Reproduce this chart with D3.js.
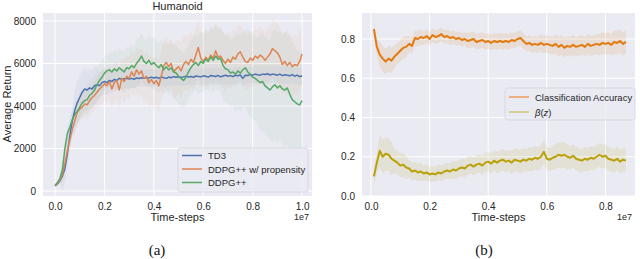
<!DOCTYPE html>
<meta charset="utf-8">
<style>
body { margin: 0; background: #fff; }
svg { display: block; font-family: "Liberation Sans", Arial, sans-serif; }
.tick text { font-size: 10px; fill: #262626; }
.cap { font-family: "Liberation Serif", "Times New Roman", serif; font-size: 15px; fill: #111; }
</style>
<body>
<svg width="640" height="259"></svg>
<script src="https://d3js.org/d3.v7.min.js"></script>
<script>
// ---- panel (a): Humanoid, x = 0 .. 1.0 (1e7) step 0.01 ----
var td3 = [250,330,480,700,1050,1750,2600,3300,3800,4150,
  4400,4650,4800,4750,4850,4800,4950,5000,4950,5100,
  5150,5100,5200,5150,5250,5200,5300,5250,5280,5300,
  5270,5300,5260,5320,5290,5330,5300,5340,5310,5360,
  5320,5350,5300,5370,5330,5300,5360,5330,5380,5350,
  5380,5340,5370,5400,5360,5390,5350,5410,5390,5370,
  5420,5400,5360,5430,5410,5390,5440,5370,5410,5450,
  5400,5430,5380,5450,5420,5460,5300,5450,5430,5480,
  5450,5500,5470,5450,5500,5480,5520,5460,5500,5480,
  5450,5500,5430,5470,5450,5420,5480,5400,5450,5380,5420];
var ddpgProp = [250,350,500,800,1300,1900,2400,2900,3300,3700,
  3850,3950,4100,4050,4250,4400,4500,4650,4800,4900,
  5050,4950,5150,4800,5100,5200,4750,5300,5150,5400,
  5300,5600,5400,5700,5500,5650,5300,5400,5100,5250,
  5050,5200,4950,5400,5900,6050,5850,6000,5600,5750,
  5850,5650,5950,6100,5950,6200,6050,6400,6750,6250,
  6100,6300,6150,6400,6250,6600,6300,6350,6150,6000,
  6200,6050,6300,6200,6450,6550,6300,6100,6050,6250,
  6150,6350,6250,6400,6300,6150,6300,6450,6700,6600,
  6500,6300,5950,6100,5900,6050,5850,5950,5900,6100,6450];
var ddpg = [250,400,600,1000,2000,2700,3000,3350,3600,3750,
  3950,4150,4250,4300,4500,4600,4750,5000,5200,5350,
  5550,5650,5700,5600,5750,5650,5800,5700,5600,5800,
  5750,5900,5800,6000,6150,6350,6100,6000,6150,5950,
  6050,5900,5800,5950,5700,5850,5700,5800,5600,5550,
  5400,5300,5200,5350,5600,5800,5950,6050,5900,6100,
  6000,6200,6100,6300,6150,6350,6200,6250,5900,5750,
  5700,5550,5600,5500,5650,5550,5700,5800,5600,5500,
  5350,5300,5200,5100,5150,4950,4850,4750,4900,5000,
  4850,4950,4800,4750,4850,4550,4300,4200,4100,4050,4250];
// band half-widths, one per 0.05e7
var td3Sd = [100,700,1000,900,600,500,450,400,400,400,400,400,400,400,400,400,400,400,400,400,400];
var ddpgPropSd = [100,400,600,700,800,900,1000,1100,1200,1200,1300,1300,1300,1300,1300,1300,1300,1300,1400,1400,1400];
var ddpgSd = [100,400,600,700,800,900,1000,1100,1200,1200,1300,1300,1400,1500,1600,1800,2000,2300,2600,2700,2500];
var ticksA = [0, 2000, 4000, 6000, 8000];

// ---- panel (b): x = 0.01 .. 0.87 (1e7) step 0.01 ----
var accuracy = [0.85,0.76,0.72,0.70,0.685,0.70,0.69,0.71,0.725,0.74,
  0.755,0.76,0.775,0.765,0.805,0.80,0.81,0.805,0.815,0.80,
  0.82,0.81,0.815,0.825,0.81,0.815,0.805,0.81,0.80,0.805,
  0.795,0.80,0.79,0.795,0.80,0.785,0.79,0.795,0.785,0.79,
  0.78,0.79,0.785,0.79,0.785,0.79,0.785,0.795,0.79,0.80,
  0.805,0.79,0.775,0.78,0.77,0.775,0.77,0.78,0.77,0.775,
  0.77,0.765,0.775,0.76,0.77,0.755,0.765,0.76,0.77,0.76,
  0.765,0.77,0.76,0.775,0.765,0.77,0.775,0.77,0.78,0.775,
  0.78,0.77,0.785,0.78,0.79,0.775,0.785];
var beta = [0.10,0.17,0.23,0.20,0.215,0.21,0.19,0.18,0.17,0.155,
  0.16,0.145,0.14,0.125,0.13,0.12,0.125,0.115,0.12,0.11,
  0.115,0.11,0.12,0.115,0.125,0.13,0.125,0.135,0.13,0.14,
  0.145,0.14,0.155,0.16,0.15,0.16,0.165,0.155,0.17,0.175,
  0.165,0.18,0.17,0.18,0.185,0.175,0.18,0.17,0.185,0.18,
  0.175,0.185,0.18,0.19,0.185,0.195,0.19,0.20,0.225,0.19,
  0.185,0.195,0.20,0.21,0.205,0.21,0.20,0.195,0.205,0.19,
  0.185,0.18,0.19,0.185,0.195,0.19,0.20,0.21,0.20,0.205,
  0.19,0.185,0.18,0.19,0.175,0.185,0.18];
var accuracySd = [0.04,0.065,0.055,0.04,0.035,0.035,0.035,0.04,0.04,0.04,0.04,0.04,0.045,0.05,0.05,0.05,0.055,0.06];
var betaSd = [0.05,0.085,0.06,0.045,0.04,0.04,0.045,0.045,0.05,0.055,0.06,0.06,0.06,0.065,0.06,0.06,0.06,0.06];
var ticksB = [0.0, 0.2, 0.4, 0.6, 0.8];
var xTicksA = [0, 0.2, 0.4, 0.6, 0.8, 1.0];
var xTicksB = [0, 0.2, 0.4, 0.6, 0.8];

var svg = d3.select("svg");

function panel(o) {
  var g = svg.append("g");
  var x = d3.scaleLinear().domain(o.xDomain).range([o.left, o.right]);
  var y = d3.scaleLinear().domain(o.yDomain).range([o.bottom, o.top]);

  g.append("rect").attr("x", o.left).attr("y", o.top)
    .attr("width", o.right - o.left).attr("height", o.bottom - o.top)
    .attr("fill", "#eaeaf2");

  // grid
  g.selectAll(".gx").data(o.xTicks).enter().append("line")
    .attr("x1", d => x(d)).attr("x2", d => x(d))
    .attr("y1", o.top).attr("y2", o.bottom)
    .attr("stroke", "#fff").attr("stroke-width", 1);
  g.selectAll(".gy").data(o.yTicks).enter().append("line")
    .attr("y1", d => y(d)).attr("y2", d => y(d))
    .attr("x1", o.left).attr("x2", o.right)
    .attr("stroke", "#fff").attr("stroke-width", 1);

  var ax = g.append("g").attr("transform", "translate(0," + o.bottom + ")")
    .call(d3.axisBottom(x).tickValues(o.xTicks).tickFormat(d3.format(".1f")).tickSize(0).tickPadding(7));
  var ay = g.append("g").attr("transform", "translate(" + o.left + ",0)")
    .call(d3.axisLeft(y).tickValues(o.yTicks).tickFormat(o.yFormat).tickSize(0).tickPadding(7));
  ax.select(".domain").remove();
  ay.select(".domain").remove();
  ax.selectAll("text").attr("font-family", null).attr("font-size", null);
  ay.selectAll("text").attr("font-family", null).attr("font-size", null);

  var clip = "clip" + o.id;
  g.append("clipPath").attr("id", clip).append("rect")
    .attr("x", o.left).attr("y", o.top)
    .attr("width", o.right - o.left).attr("height", o.bottom - o.top);
  var plot = g.append("g").attr("clip-path", "url(#" + clip + ")");

  o.series.forEach(function(s) {
    var pts = s.values.map(function(v, i) {
      var t = o.x0 + i * o.step;
      var sd = s.sd[Math.round(t / 0.05)];
      return { t: t, v: v, lo: v - sd, hi: v + sd };
    });
    plot.append("path").datum(pts)
      .attr("d", d3.area().x(d => x(d.t)).y0(d => y(d.lo)).y1(d => y(d.hi)))
      .attr("fill", s.color).attr("fill-opacity", o.bandOpacity);
    s.pts = pts;
  });
  o.series.forEach(function(s) {
    plot.append("path").datum(s.pts)
      .attr("d", d3.line().x(d => x(d.t)).y(d => y(d.v)))
      .attr("fill", "none").attr("stroke", s.color)
      .attr("stroke-width", o.lineWidth).attr("stroke-linejoin", "round");
  });

  g.append("text").attr("x", (o.left + o.right) / 2).attr("y", 221)
    .attr("text-anchor", "middle").attr("font-size", 11).attr("fill", "#262626")
    .text("Time-steps");
  g.append("text").attr("x", o.right - 3).attr("y", 220)
    .attr("text-anchor", "end").attr("font-size", 9).attr("fill", "#262626")
    .text("1e7");

  // legend
  var L = o.legend;
  var lg = g.append("g");
  lg.append("rect").attr("x", L.x).attr("y", L.y).attr("width", L.w)
    .attr("height", L.h).attr("rx", 2.5)
    .attr("fill", "#eaeaf2").attr("fill-opacity", 0.8)
    .attr("stroke", "#d4d4dc").attr("stroke-width", 0.8);
  L.items.forEach(function(it, i) {
    var yy = L.y + L.first + i * L.gap;
    lg.append("line").attr("x1", L.x + 4).attr("x2", L.x + 24)
      .attr("y1", yy).attr("y2", yy)
      .attr("stroke", it.color).attr("stroke-width", 1.5);
    var tx = lg.append("text").attr("x", L.x + 30).attr("y", yy + 3.5)
      .attr("font-size", 9.5).attr("fill", "#262626");
    if (it.html) it.html(tx); else tx.text(it.label);
  });
  return g;
}

var blue = "#4c72b0", orange = "#dd8452", green = "#55a868";
var accColor = "#e27a0e", betaColor = "#b9a10a";

var gA = panel({
  id: "a", left: 43, right: 312, top: 13, bottom: 196,
  xDomain: [-0.0486, 1.04], yDomain: [-235, 8376],
  xTicks: xTicksA, yTicks: ticksA, yFormat: d3.format("d"),
  x0: 0, step: 0.01, lineWidth: 1.5, bandOpacity: 0.065,
  series: [
    { values: td3, sd: td3Sd, color: blue },
    { values: ddpgProp, sd: ddpgPropSd, color: orange },
    { values: ddpg, sd: ddpgSd, color: green }
  ],
  legend: { x: 178, y: 148, w: 130, h: 44, first: 7.5, gap: 13.5,
    items: [
      { label: "TD3", color: blue },
      { label: "DDPG++ w/ propensity", color: orange },
      { label: "DDPG++", color: green }
    ] }
});
gA.append("text").attr("x", 177.5).attr("y", 10)
  .attr("text-anchor", "middle").attr("font-size", 11).attr("fill", "#262626")
  .text("Humanoid");
gA.append("text").attr("transform", "translate(11,104) rotate(-90)")
  .attr("text-anchor", "middle").attr("font-size", 11).attr("fill", "#262626")
  .text("Average Return");

var gB = panel({
  id: "b", left: 362, right: 635, top: 13, bottom: 196,
  xDomain: [-0.0307, 0.901], yDomain: [0, 0.9325],
  xTicks: xTicksB, yTicks: ticksB, yFormat: d3.format(".1f"),
  x0: 0.01, step: 0.01, lineWidth: 2, bandOpacity: 0.12,
  series: [
    { values: accuracy, sd: accuracySd, color: accColor },
    { values: beta, sd: betaSd, color: betaColor }
  ],
  legend: { x: 505, y: 88, w: 130, h: 32, first: 9, gap: 15,
    items: [
      { label: "Classification Accuracy", color: "#ef9a5a" },
      { color: "#d2c47a", html: function(t) {
          t.append("tspan").attr("font-style", "italic").text("\u03b2");
          t.append("tspan").text("(");
          t.append("tspan").attr("font-style", "italic").text("z");
          t.append("tspan").text(")");
        } }
    ] }
});

svg.append("text").attr("class", "cap").attr("x", 157).attr("y", 255)
  .attr("text-anchor", "middle").text("(a)");
svg.append("text").attr("class", "cap").attr("x", 484).attr("y", 255)
  .attr("text-anchor", "middle").text("(b)");
</script>
</body>
